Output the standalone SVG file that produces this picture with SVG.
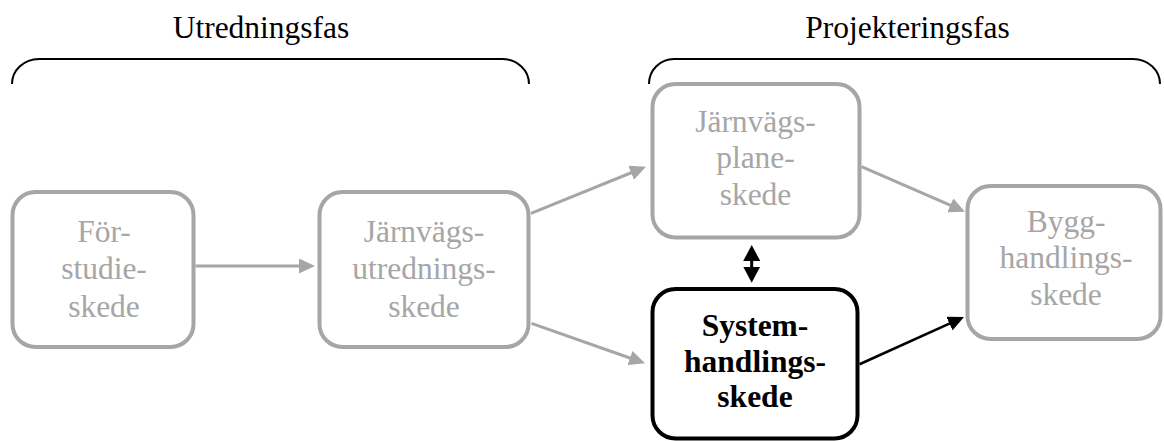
<svg xmlns="http://www.w3.org/2000/svg" width="1164" height="441" viewBox="0 0 1164 441">
  <style>
    .phase { font-family: "Liberation Serif", "Times New Roman", serif; font-size: 31.5px; fill: #000; text-anchor: middle; }
    .label { font-family: "Liberation Serif", "Times New Roman", serif; font-size: 31.5px; fill: #a6a6a6; text-anchor: middle; }
    .label-active { font-family: "Liberation Serif", "Times New Roman", serif; font-size: 31.5px; font-weight: bold; fill: #000; text-anchor: middle; }
    .box { fill: #fff; stroke: #a6a6a6; stroke-width: 4; }
    .box-active { fill: #fff; stroke: #000; stroke-width: 4; }
    .brace { fill: none; stroke: #000; stroke-width: 2; }
    .link { fill: none; stroke: #a6a6a6; stroke-width: 3; }
    .link-active { fill: none; stroke: #000; stroke-width: 2.6; }
    .link-double { fill: none; stroke: #000; stroke-width: 3; }
  </style>
  <defs>
    <marker id="head-gray" viewBox="0 0 16 15" markerWidth="16" markerHeight="15" refX="6" refY="7.5" orient="auto" markerUnits="userSpaceOnUse">
      <path d="M0,0 L16,7.5 L0,15 z" fill="#a6a6a6"/>
    </marker>
    <marker id="head-black" viewBox="0 0 16 15" markerWidth="16" markerHeight="15" refX="6" refY="7.5" orient="auto" markerUnits="userSpaceOnUse">
      <path d="M0,0 L16,7.5 L0,15 z" fill="#000"/>
    </marker>
    <marker id="head-black-v" viewBox="0 0 16 17" markerWidth="16" markerHeight="17" refX="6" refY="8.5" orient="auto-start-reverse" markerUnits="userSpaceOnUse">
      <path d="M0,0 L16,8.5 L0,17 z" fill="#000"/>
    </marker>
  </defs>

  <!-- phase headings with their braces -->
  <g id="phase-utredning">
    <text class="phase" x="261" y="38">Utredningsfas</text>
    <path class="brace" d="M12,84 A27,25 0 0 1 39,59 L502,59 A27,25 0 0 1 529,84"/>
  </g>
  <g id="phase-projektering">
    <text class="phase" x="907.5" y="38">Projekteringsfas</text>
    <path class="brace" d="M649,84 A25,25 0 0 1 674,59 L1133,59 A27,25 0 0 1 1160,84"/>
  </g>

  <!-- connectors -->
  <g id="connectors">
    <line class="link" x1="195.5" y1="266" x2="305" y2="266" marker-end="url(#head-gray)"/>
    <line class="link" x1="531" y1="213.3" x2="636.7" y2="170.5" marker-end="url(#head-gray)"/>
    <line class="link" x1="531.5" y1="323.3" x2="635.6" y2="360" marker-end="url(#head-gray)"/>
    <line class="link" x1="861.5" y1="166.7" x2="955.8" y2="207.7" marker-end="url(#head-gray)"/>
    <line class="link-active" x1="859.5" y1="364.2" x2="954.9" y2="321.1" marker-end="url(#head-black)"/>
    <line class="link-double" x1="751.7" y1="255" x2="751.7" y2="272.7" marker-start="url(#head-black-v)" marker-end="url(#head-black-v)"/>
  </g>

  <!-- stages -->
  <g id="forstudie">
    <rect class="box" x="12.5" y="192" width="181" height="155" rx="23"/>
    <text class="label" x="104" y="241.5">För-</text>
    <text class="label" x="104" y="279">studie-</text>
    <text class="label" x="104" y="316.5">skede</text>
  </g>
  <g id="jarnvagsutredning">
    <rect class="box" x="319.5" y="192" width="209" height="155" rx="23"/>
    <text class="label" x="424" y="241.5">Järnvägs-</text>
    <text class="label" x="424" y="279">utrednings-</text>
    <text class="label" x="424" y="316.5">skede</text>
  </g>
  <g id="jarnvagsplan">
    <rect class="box" x="652.5" y="84" width="207" height="153.5" rx="23"/>
    <text class="label" x="755.5" y="131.5">Järnvägs-</text>
    <text class="label" x="755.5" y="168.3">plane-</text>
    <text class="label" x="755.5" y="205">skede</text>
  </g>
  <g id="systemhandling">
    <rect class="box-active" x="652.5" y="289" width="205" height="149.5" rx="23"/>
    <text class="label-active" x="755" y="336">System-</text>
    <text class="label-active" x="755" y="371.7">handlings-</text>
    <text class="label-active" x="755" y="406.7">skede</text>
  </g>
  <g id="bygghandling">
    <rect class="box" x="967.5" y="186" width="193" height="153" rx="23"/>
    <text class="label" x="1066" y="231.7">Bygg-</text>
    <text class="label" x="1066" y="268.3">handlings-</text>
    <text class="label" x="1066" y="305">skede</text>
  </g>
</svg>
